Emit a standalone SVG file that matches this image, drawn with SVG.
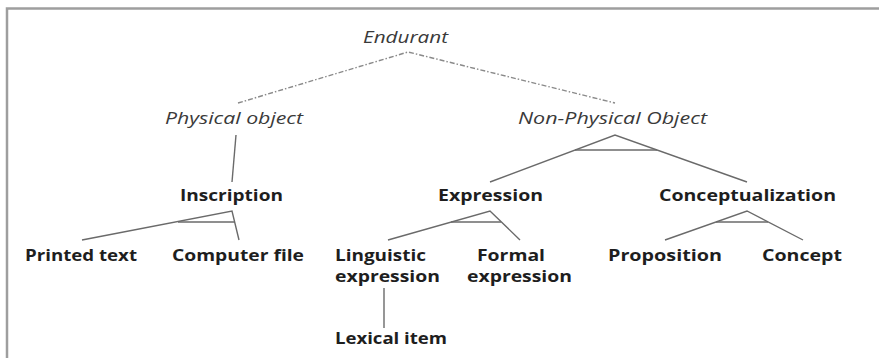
<svg xmlns="http://www.w3.org/2000/svg" width="879" height="358" viewBox="0 0 879 358">
  <style>
    .it { font-family: "Open Sans", "Liberation Sans", sans-serif; font-style: italic; font-size: 16px; fill: #3a3a3a; }
    .bd { font-family: "Open Sans", "Liberation Sans", sans-serif; font-weight: bold; font-size: 16px; fill: #1e1e1e; }
    .ln { stroke: #6a6a6a; stroke-width: 1.4; fill: none; }
    .dd { stroke: #8a8a8a; stroke-width: 1.4; fill: none; stroke-dasharray: 5 2 1.5 2; }
    .frame { stroke: #9e9e9e; stroke-width: 2.5; fill: none; }
  </style>
  <rect width="879" height="358" fill="#ffffff"/>
  <path class="frame" d="M7,358 V8.5 H879"/>

  <g id="connectors">
    <polyline class="dd" points="238,103 408,52 615,103"/>
    <line class="ln" x1="236" y1="135" x2="232" y2="182"/>
    <polyline class="ln" points="490,182 615,135 747,182"/>
    <line class="ln" x1="575" y1="150" x2="657" y2="150"/>
    <polyline class="ln" points="82,240 232,211 239,240"/>
    <line class="ln" x1="178" y1="222" x2="235" y2="222"/>
    <polyline class="ln" points="388,240 490,211 520,240"/>
    <line class="ln" x1="451" y1="222" x2="501" y2="222"/>
    <polyline class="ln" points="665,240 747,211 803,240"/>
    <line class="ln" x1="716" y1="222" x2="768" y2="222"/>
    <line class="ln" x1="384" y1="288" x2="384" y2="328"/>
  </g>

  <g id="endurant"><text class="it" x="363" y="43" textLength="85" lengthAdjust="spacingAndGlyphs">Endurant</text></g>
  <g id="physical-object"><text class="it" x="165" y="124" textLength="138" lengthAdjust="spacingAndGlyphs">Physical object</text></g>
  <g id="non-physical-object"><text class="it" x="518" y="124" textLength="189" lengthAdjust="spacingAndGlyphs">Non-Physical Object</text></g>
  <g id="inscription"><text class="bd" x="180" y="201" textLength="103" lengthAdjust="spacingAndGlyphs">Inscription</text></g>
  <g id="expression"><text class="bd" x="438" y="201" textLength="105" lengthAdjust="spacingAndGlyphs">Expression</text></g>
  <g id="conceptualization"><text class="bd" x="659" y="201" textLength="177" lengthAdjust="spacingAndGlyphs">Conceptualization</text></g>
  <g id="printed-text"><text class="bd" x="25" y="261" textLength="112" lengthAdjust="spacingAndGlyphs">Printed text</text></g>
  <g id="computer-file"><text class="bd" x="172" y="261" textLength="132" lengthAdjust="spacingAndGlyphs">Computer file</text></g>
  <g id="linguistic-expression">
    <text class="bd" x="335" y="261" textLength="91" lengthAdjust="spacingAndGlyphs">Linguistic</text>
    <text class="bd" x="335" y="282" textLength="105" lengthAdjust="spacingAndGlyphs">expression</text>
  </g>
  <g id="formal-expression">
    <text class="bd" x="477" y="261" textLength="68" lengthAdjust="spacingAndGlyphs">Formal</text>
    <text class="bd" x="467" y="282" textLength="105" lengthAdjust="spacingAndGlyphs">expression</text>
  </g>
  <g id="proposition"><text class="bd" x="608" y="261" textLength="114" lengthAdjust="spacingAndGlyphs">Proposition</text></g>
  <g id="concept"><text class="bd" x="762" y="261" textLength="80" lengthAdjust="spacingAndGlyphs">Concept</text></g>
  <g id="lexical-item"><text class="bd" x="335" y="344" textLength="112" lengthAdjust="spacingAndGlyphs">Lexical item</text></g>
</svg>
